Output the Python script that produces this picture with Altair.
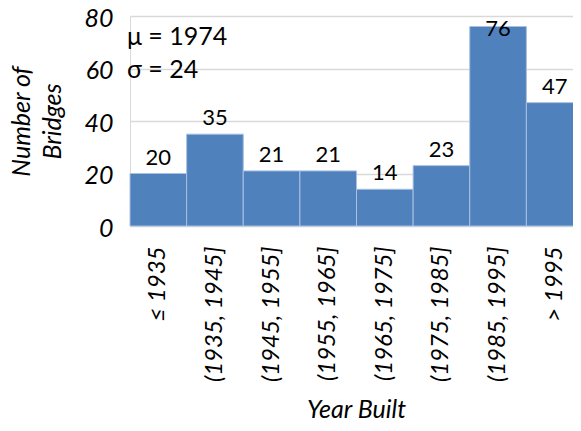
import altair as alt
import pandas as pd

categories = ["≤ 1935", "(1935, 1945]", "(1945, 1955]", "(1955, 1965]",
              "(1965, 1975]", "(1975, 1985]", "(1985, 1995]", "> 1995"]
counts = [20, 35, 21, 21, 14, 23, 76, 47]
stats_lines = ["μ = 1974", "σ = 24"]

FONT = "Lato"
BLUE = "#4f81bd"

df = pd.DataFrame({"bin": categories, "count": counts})

x_enc = alt.X("bin:N", sort=categories,
              scale=alt.Scale(paddingInner=0, paddingOuter=0, range=[0, 453]),
              axis=alt.Axis(title="Year Built", labelAngle=-90, labelPadding=20,
                            labelFontSize=24, labelFontStyle="italic", labelFont=FONT,
                            labelColor="#000", ticks=False, domainColor="#d9d9d9",
                            titleFont=FONT, titleFontSize=25, titleFontStyle="italic",
                            titleFontWeight="normal", titleColor="#000", titlePadding=16,
                            titleX=226))

y_enc = alt.Y("count:Q", scale=alt.Scale(domain=[0, 80]),
              axis=alt.Axis(title=["Number of", "Bridges"], values=[0, 20, 40, 60, 80],
                            labelFontSize=25, labelFontStyle="italic", labelFont=FONT,
                            labelColor="#000", labelPadding=17, labelOffset=2, ticks=False,
                            domainColor="#d9d9d9", gridColor="#d9d9d9", gridWidth=1.5,
                            titleFont=FONT, titleFontSize=25, titleFontStyle="italic",
                            titleFontWeight="normal", titleColor="#000",
                            titlePadding=18, titleLineHeight=31))

bars = alt.Chart(df).mark_bar(color=BLUE, stroke="#a9c0e0", strokeWidth=1).encode(
    x=x_enc, y=y_enc)

labels = alt.Chart(df).transform_calculate(
    ly="min(datum.count, 69)"
).mark_text(baseline="bottom", dy=-4, font=FONT, fontSize=22, color="#000").encode(
    x=alt.X("bin:N", sort=categories),
    y=alt.Y("ly:Q"),
    text="count:Q")

stat_layers = [
    alt.Chart(pd.DataFrame({"txt": [t]})).mark_text(
        align="left", baseline="middle", font=FONT, fontSize=25, color="#000"
    ).encode(x=alt.value(-3), y=alt.value(yy), text="txt:N")
    for t, yy in zip(stats_lines, [21, 54])
]

chart = alt.layer(bars, labels, *stat_layers).properties(
    width=443, height=210,
    autosize=alt.AutoSizeParams(type="none"),
    padding={"left": 122, "top": 8, "right": 0, "bottom": 197},
).configure_view(stroke=None)

chart.save("out.html", embed_options={"renderer": "svg", "actions": False})
